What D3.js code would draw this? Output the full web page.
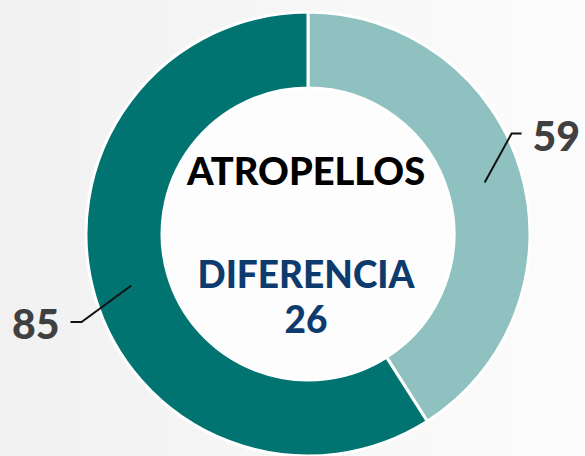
<!DOCTYPE html>
<html>
<head>
<meta charset="utf-8">
<script src="https://cdn.jsdelivr.net/npm/d3@7"></script>
<style>
  html, body { margin: 0; padding: 0; background: #f4f4f4; }
  #chart { width: 585px; height: 456px; }
</style>
</head>
<body>
<div id="chart"></div>
<script>
// data
const categories = ["59", "85"];
const values = [59, 85];
const colors = ["#8fc1c1", "#017472"];
const title = "ATROPELLOS";
const diffLabel = "DIFERENCIA";
const diffValue = values[1] - values[0];

const width = 585, height = 456;
const cx = 308, cy = 234;
const outerR = 222, innerR = 146;

const svg = d3.select("#chart").append("svg")
    .attr("width", width)
    .attr("height", height)
    .style("font-family", "Lato, 'Open Sans', sans-serif");

// background gradient
const grad = svg.append("defs").append("linearGradient")
    .attr("id", "bg").attr("x1", 0).attr("x2", 1).attr("y1", 0).attr("y2", 0);
grad.append("stop").attr("offset", "0%").attr("stop-color", "#f1f1f1");
grad.append("stop").attr("offset", "100%").attr("stop-color", "#fcfcfc");
svg.append("rect").attr("width", width).attr("height", height).attr("fill", "url(#bg)");

const g = svg.append("g").attr("transform", `translate(${cx},${cy})`);

const pie = d3.pie().sort(null).value(d => d.value);
const arcs = pie(values.map((v, i) => ({ value: v, label: categories[i], color: colors[i] })));

const arc = d3.arc().innerRadius(innerR).outerRadius(outerR);

// white middle
g.append("circle").attr("r", innerR).attr("fill", "#fdfdfd");

g.selectAll("path.slice").data(arcs).enter()
    .append("path")
    .attr("class", "slice")
    .attr("d", arc)
    .attr("fill", d => d.data.color)
    .attr("stroke", "#ffffff")
    .attr("stroke-width", 3);

// leader lines: start at ring middle, elbow slightly outside, short horizontal tail
const deg = Math.PI / 180;
const leader = [
    { dAngle: -10 * deg, r: 227, tail: 10 },
    { dAngle: -5 * deg, r: 243, tail: -11 }
];
const midR = (innerR + outerR) / 2;

arcs.forEach((d, i) => {
    const mid = (d.startAngle + d.endAngle) / 2;
    const p0 = d3.pointRadial(mid, midR);
    const p1 = d3.pointRadial(mid + leader[i].dAngle, leader[i].r);
    const p2 = [p1[0] + leader[i].tail, p1[1]];
    g.append("path")
        .attr("d", d3.line()([p0, p1, p2]))
        .attr("fill", "none")
        .attr("stroke", "#111")
        .attr("stroke-width", 2);
    const right = leader[i].tail > 0;
    g.append("text")
        .attr("x", p2[0] + (right ? 11 : -11))
        .attr("y", p2[1] + 17)
        .attr("text-anchor", right ? "start" : "end")
        .attr("font-size", 41)
        .attr("font-weight", 900)
        .attr("fill", "#404040")
        .text(d.data.label);
});

// center texts
g.append("text")
    .attr("x", -2).attr("y", 185 - cy)
    .attr("text-anchor", "middle")
    .attr("font-size", 38).attr("font-weight", 900)
    .attr("fill", "#000")
    .text(title);

g.append("text")
    .attr("x", -2).attr("y", 288 - cy)
    .attr("text-anchor", "middle")
    .attr("font-size", 37).attr("font-weight", 900)
    .attr("fill", "#0d3b6e")
    .text(diffLabel);

g.append("text")
    .attr("x", -2).attr("y", 333 - cy)
    .attr("text-anchor", "middle")
    .attr("font-size", 37).attr("font-weight", 900)
    .attr("fill", "#0d3b6e")
    .text(diffValue);
</script>
</body>
</html>
